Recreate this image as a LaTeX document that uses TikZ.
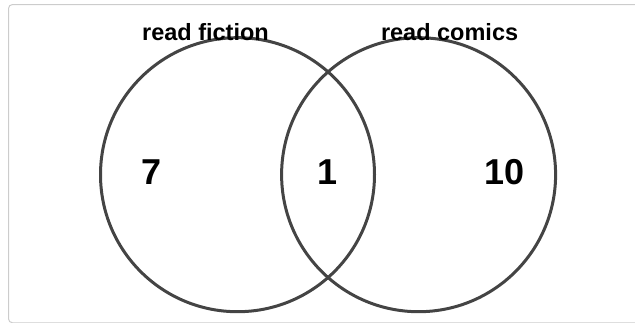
\documentclass[tikz,border=0pt]{standalone}
\usepackage{fontspec}
\setmainfont{Liberation Sans}
\definecolor{ringcol}{HTML}{444444}
\definecolor{framecol}{HTML}{CCCCCC}
\begin{document}
\begin{tikzpicture}[x=1pt,y=-1pt,
  ring/.style={circle, draw=ringcol, line width=3pt, minimum size=274pt, inner sep=0pt},
  setlabel/.style={anchor=base, font=\bfseries\fontsize{23.5}{28}\selectfont, inner sep=0pt},
  countlabel/.style={anchor=base, font=\bfseries\fontsize{36}{40}\selectfont, inner sep=0pt}]
\useasboundingbox (0,0) rectangle (635,322);
\clip (0,0) rectangle (635,322);
\draw[framecol, line width=1pt, rounded corners=4pt] (8.5,4.5) rectangle (645,322.8);
\node[ring] (fiction) at (237.5,174.7) {};
\node[ring] (comics) at (418.6,174.7) {};
\node[setlabel] (lf) at (205.5,40) {read fiction};
\node[setlabel] (lc) at (449.6,40) {read comics};
\node[countlabel] (n7) at (151.5,184.5) {7};
\node[countlabel] (n1) at (327.3,184.5) {1};
\node[countlabel] (n10) at (504.3,184.5) {10};
\end{tikzpicture}
\end{document}
